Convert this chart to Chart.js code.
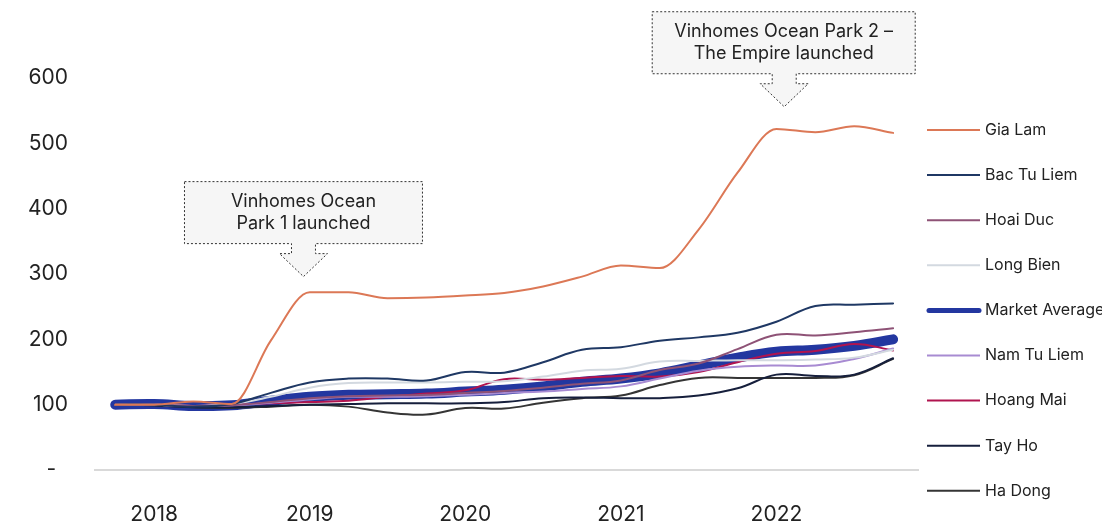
<!DOCTYPE html>
<html>
<head>
<meta charset="utf-8">
<script src="https://cdn.jsdelivr.net/npm/chart.js@4.4.1/dist/chart.umd.min.js"></script>
<style>
  html, body { margin: 0; padding: 0; background: #fff; }
  #wrap { width: 1102px; height: 523px; }
</style>
</head>
<body>
<div id="wrap"><canvas id="chart"></canvas></div>
<script>
// Quarterly price index (base = 100)
const quarters = ['2017 Q4',
  '2018 Q1', '2018 Q2', '2018 Q3', '2018 Q4',
  '2019 Q1', '2019 Q2', '2019 Q3', '2019 Q4',
  '2020 Q1', '2020 Q2', '2020 Q3', '2020 Q4',
  '2021 Q1', '2021 Q2', '2021 Q3', '2021 Q4',
  '2022 Q1', '2022 Q2', '2022 Q3', '2022 Q4'];

const giaLam     = [100, 100, 105, 101, 198, 272, 272, 263, 264, 267, 271, 281, 296, 313, 309, 368, 455, 522, 517, 526, 516];
const bacTuLiem  = [100, 100,  97, 101, 118, 134, 140, 140, 137, 150, 149, 165, 184, 188, 198, 203, 210, 227, 251, 253, 255];
const hoaiDuc    = [100, 100,  98,  99, 104, 110, 113, 114, 115, 118, 121, 126, 132, 137, 153, 163, 185, 207, 206, 211, 217];
const longBien   = [100, 100,  98, 101, 112, 126, 133, 134, 134, 135, 136, 143, 152, 155, 166, 167, 168, 168, 169, 172, 184];
const marketAvg  = [100, 101,  98,  99, 106, 112, 115, 116, 117, 120, 123, 128, 135, 140, 148, 160, 172, 181, 184, 190, 200];
const namTuLiem  = [100, 100,  98,  99, 103, 108, 112, 112, 113, 115, 118, 120, 124, 128, 140, 152, 158, 160, 160, 170, 186];
const hoangMai   = [100, 100,  98, 100, 102, 104, 106, 112, 117, 122, 139, 138, 141, 144, 143, 150, 165, 178, 182, 193, 183];
const tayHo      = [100,  99,  96,  96,  98, 100, 101, 102, 102, 102, 104, 110, 111, 110, 110, 114, 125, 146, 144, 146, 171];
const haDong     = [100,  99,  96,  95,  97, 100,  97,  88,  85,  95,  94, 103, 110, 114, 130, 141, 141, 141, 141, 145, 170];

const yearTicks = [2018, 2019, 2020, 2021, 2022];
const yTicks = [0, 100, 200, 300, 400, 500, 600];

const seriesNames = ['Gia Lam', 'Bac Tu Liem', 'Hoai Duc', 'Long Bien', 'Market Average',
  'Nam Tu Liem', 'Hoang Mai', 'Tay Ho', 'Ha Dong'];
const seriesData = [giaLam, bacTuLiem, hoaiDuc, longBien, marketAvg, namTuLiem, hoangMai, tayHo, haDong];
const seriesColors = ['#dc7856', '#1f3864', '#8e5276', '#d3d9e0', '#2337a0',
  '#a88bd2', '#b0144f', '#161f3c', '#353535'];

const callouts = [
  { lines: ['Vinhomes Ocean', 'Park 1 launched'], quarter: 2018.96, value: 296, left: 119, right: 119 },
  { lines: ['Vinhomes Ocean Park 2 \u2013', 'The Empire launched'], quarter: 2022.05, value: 556, left: 132, right: 131 }
];

const FONT = 'Inter, "Noto Sans", sans-serif';

// "2018 Q3" -> 2018.5
function quarterToYear(q) {
  const [y, qq] = q.split(' Q');
  return parseInt(y) + (parseInt(qq) - 1) / 4;
}

const datasets = seriesNames.map((name, i) => ({
  label: name,
  data: seriesData[i].map((v, j) => ({ x: quarterToYear(quarters[j]), y: v })),
  borderColor: seriesColors[i],
  borderWidth: name === 'Market Average' ? 10 : 2,
  borderCapStyle: 'round',
  pointRadius: 0,
  tension: 0.4,
  cubicInterpolationMode: name === 'Gia Lam' ? 'monotone' : 'default',
  order: name === 'Market Average' ? 1 : 0
}));

// callout boxes with dashed outline and arrow
const calloutPlugin = {
  id: 'callouts',
  afterDatasetsDraw(chart) {
    const ctx = chart.ctx;
    const xs = chart.scales.x, ys = chart.scales.y;
    callouts.forEach(c => {
      const tx = xs.getPixelForValue(c.quarter);
      const ty = ys.getPixelForValue(c.value);
      const top = ty - 95, bottom = ty - 33, stemBottom = ty - 23;
      const l = tx - c.left, r = tx + c.right;
      ctx.save();
      ctx.beginPath();
      ctx.moveTo(l, top);
      ctx.lineTo(r, top);
      ctx.lineTo(r, bottom);
      ctx.lineTo(tx + 12, bottom);
      ctx.lineTo(tx + 12, stemBottom);
      ctx.lineTo(tx + 24, stemBottom);
      ctx.lineTo(tx, ty);
      ctx.lineTo(tx - 24, stemBottom);
      ctx.lineTo(tx - 12, stemBottom);
      ctx.lineTo(tx - 12, bottom);
      ctx.lineTo(l, bottom);
      ctx.closePath();
      ctx.fillStyle = '#f6f6f6';
      ctx.fill();
      ctx.setLineDash([2, 2]);
      ctx.lineWidth = 1;
      ctx.strokeStyle = '#333';
      ctx.stroke();
      ctx.setLineDash([]);
      ctx.fillStyle = '#222';
      ctx.font = '18px ' + FONT;
      ctx.textAlign = 'center';
      ctx.textBaseline = 'middle';
      const cx = (l + r) / 2, cy = (top + bottom) / 2;
      ctx.fillText(c.lines[0], cx, cy - 11);
      ctx.fillText(c.lines[1], cx, cy + 11);
      ctx.restore();
    });
  },
  afterDraw(chart) {
    // legend on the right
    const ctx = chart.ctx;
    ctx.save();
    ctx.font = '16px ' + FONT;
    ctx.textBaseline = 'middle';
    ctx.textAlign = 'left';
    seriesNames.forEach((name, i) => {
      const y = 130 + i * 45.1;
      ctx.beginPath();
      ctx.strokeStyle = seriesColors[i];
      const thick = name === 'Market Average';
      ctx.lineWidth = thick ? 5 : 2;
      ctx.lineCap = thick ? 'round' : 'butt';
      ctx.moveTo(thick ? 929 : 927, y);
      ctx.lineTo(thick ? 979 : 980, y);
      ctx.stroke();
      ctx.fillStyle = '#222';
      ctx.fillText(name, 985, y);
    });
    ctx.restore();
  }
};

new Chart(document.getElementById('chart'), {
  type: 'line',
  data: { datasets },
  options: {
    responsive: true,
    maintainAspectRatio: false,
    animation: false,
    layout: { padding: { top: 78, right: 184, left: 0, bottom: 0 } },
    plugins: { legend: { display: false }, tooltip: { enabled: false } },
    scales: {
      x: {
        type: 'linear',
        min: 2017.62,
        max: 2022.91,
        afterBuildTicks: s => { s.ticks = yearTicks.map(v => ({ value: v })); },
        afterFit: s => { s.height = 53; },
        grid: { display: false, drawTicks: false },
        border: { display: true, color: '#d9d9d9', width: 2 },
        ticks: {
          padding: 32,
          color: '#222',
          font: { family: FONT, size: 21 },
          callback: v => String(v)
        }
      },
      y: {
        min: 0,
        max: 600,
        afterBuildTicks: s => { s.ticks = yTicks.map(v => ({ value: v })); },
        afterFit: s => { s.width = 95; },
        grid: { display: false, drawTicks: false },
        border: { display: false },
        ticks: {
          padding: 27,
          color: '#222',
          font: { family: FONT, size: 21 },
          callback: v => v === 0 ? '-  ' : String(v)
        }
      }
    }
  },
  plugins: [calloutPlugin]
});
</script>
</body>
</html>
